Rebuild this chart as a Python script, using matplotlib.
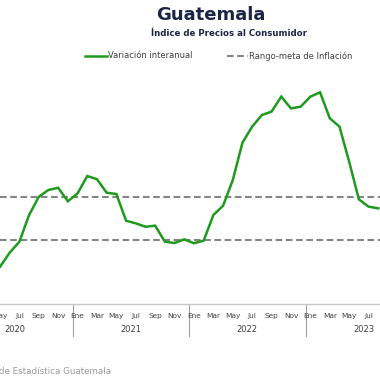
import numpy as np
import matplotlib
matplotlib.use("Agg")
import matplotlib.pyplot as plt
from matplotlib.lines import Line2D

# ── data: variación interanual del IPC (%), may-2020 .. ago-2023 ─────────
start_index = 4          # 0 = ene-2020
inflacion = [
    1.74, 2.40, 2.91, 4.16, 5.01, 5.33, 5.43, 4.80,                 # 2020 may-dic
    5.17, 5.98, 5.83, 5.20, 5.14, 3.89, 3.77, 3.61, 3.66, 2.91, 2.85, 3.02,  # 2021
    2.84, 2.96, 4.16, 4.59, 5.79, 7.54, 8.29, 8.83, 8.99, 9.69, 9.14, 9.22,  # 2022
    9.69, 9.89, 8.68, 8.29, 6.65, 4.89, 4.55, 4.47,                 # 2023 ene-ago
]
meta_inf, meta_sup = 3.0, 5.0
meses = ["Ene", "Feb", "Mar", "Abr", "May", "Jun",
         "Jul", "Ago", "Sep", "Oct", "Nov", "Dic"]
anios = [2020, 2021, 2022, 2023]

W = H = 380
def fx(px): return px / W
def fy(py): return 1 - py / H

fig = plt.figure(figsize=(3.8, 3.8), dpi=100)
fig.patch.set_facecolor("white")

# axes stretched so the visible window runs may-2020 .. ago-2023
ax_top, ax_bot = 80, 304
ax = fig.add_axes([0, fy(ax_bot), 1, (ax_bot - ax_top) / H])
ax.set_xlim(4.0, 43.18)
ax.set_ylim(0, (ax_bot - ax_top) / 21.4)

x = np.arange(start_index, start_index + len(inflacion))
ax.plot(x, inflacion, color="#1f9a1f", lw=1.8, solid_joinstyle="miter",
        zorder=3)
for v in (meta_inf, meta_sup):
    ax.axhline(v, color="#858585", lw=1.5, dashes=(3.2, 1.7), zorder=2)

for s in ("top", "left", "right"):
    ax.spines[s].set_visible(False)
ax.spines["bottom"].set_color("#c8c8c8")
ax.spines["bottom"].set_linewidth(1.0)
ax.set_xticks([])
ax.set_yticks([])

# month / year labels on a category axis
tr = ax.get_xaxis_transform()
h = ax_bot - ax_top
for k, yr in enumerate(anios):
    base = k * 12
    for m in range(0, 12, 2):
        ax.text(base + m, -(316 - ax_bot) / h, meses[m], transform=tr,
                ha="center", va="center", fontsize=5.3, color="#404040",
                clip_on=False)
    ax.text(base + 5.5, -(330 - ax_bot) / h, str(yr), transform=tr,
            ha="center", va="center", fontsize=6, color="#404040",
            clip_on=False)
for k in range(len(anios) + 1):
    ax.plot([k * 12 - 0.5] * 2, [0, -(336 - ax_bot) / h], transform=tr,
            color="#a0a0a0", lw=0.8, clip_on=False)

# titles
fig.text(fx(211), fy(15), "Guatemala", ha="center", va="center",
         fontsize=13, fontweight="bold", color="#1a2644")
fig.text(fx(229), fy(34), "Índice de Precios al Consumidor", ha="center",
         va="center", fontsize=6.2, fontweight="bold", color="#1a2644")

# legend
fig.add_artist(Line2D([fx(85), fx(107)], [fy(56), fy(56)],
                      color="#1f9a1f", lw=1.8))
fig.text(fx(108), fy(56), "Variación interanual", ha="left", va="center",
         fontsize=6, color="#404040")
fig.add_artist(Line2D([fx(227), fx(248)], [fy(56), fy(56)],
                      color="#858585", lw=1.5, dashes=(3.2, 1.7)))
fig.text(fx(249), fy(56), "Rango-meta de Inflación", ha="left", va="center",
         fontsize=6, color="#404040")

# source (cut off on the left, as in the original crop)
fig.text(fx(111), fy(372), "Fuente: Instituto Nacional de Estadística Guatemala",
         ha="right", va="center", fontsize=6.3, color="#9a9a9a")

fig.savefig("out.png", dpi=100)
